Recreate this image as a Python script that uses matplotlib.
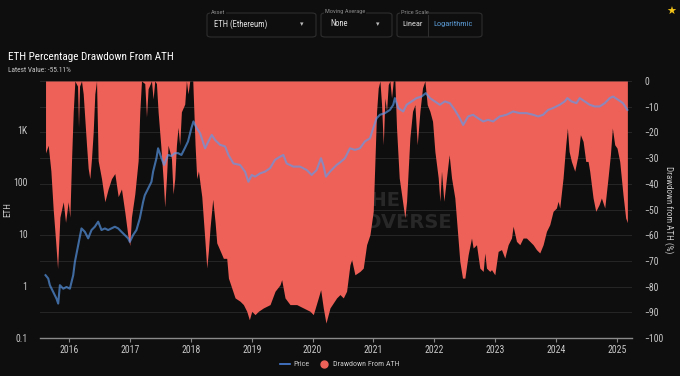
import matplotlib.pyplot as plt
import numpy as np
from matplotlib.patches import FancyBboxPatch
from matplotlib.lines import Line2D

plt.rcParams['font.family'] = ['Roboto Condensed', 'Archivo Narrow', 'DejaVu Sans']

# drawdown from ATH (%)
dd_year = [2015.611, 2015.655, 2015.699, 2015.737, 2015.776, 2015.809, 2015.847, 2015.902, 2015.94, 2015.983,
           2016.011, 2016.038, 2016.066, 2016.093, 2016.137, 2016.153, 2016.17, 2016.202, 2016.23, 2016.285,
           2016.312, 2016.339, 2016.367, 2016.394, 2016.421, 2016.449, 2016.476, 2016.531, 2016.586, 2016.64,
           2016.695, 2016.75, 2016.805, 2016.859, 2016.914, 2016.969, 2016.996, 2017.023, 2017.078, 2017.133,
           2017.16, 2017.188, 2017.242, 2017.27, 2017.297, 2017.352, 2017.379, 2017.406, 2017.434, 2017.461,
           2017.505, 2017.543, 2017.57, 2017.598, 2017.625, 2017.68, 2017.707, 2017.735, 2017.762, 2017.789,
           2017.816, 2017.844, 2017.899, 2017.926, 2017.953, 2017.981, 2018.031, 2018.069, 2018.096, 2018.124,
           2018.151, 2018.179, 2018.233, 2018.261, 2018.288, 2018.315, 2018.359, 2018.398, 2018.425, 2018.48,
           2018.534, 2018.589, 2018.617, 2018.671, 2018.726, 2018.808, 2018.863, 2018.918, 2018.961, 2019.0,
           2019.054, 2019.109, 2019.191, 2019.301, 2019.383, 2019.465, 2019.492, 2019.547, 2019.629, 2019.739,
           2019.848, 2019.958, 2020.012, 2020.094, 2020.133, 2020.176, 2020.22, 2020.286, 2020.395, 2020.45,
           2020.505, 2020.559, 2020.614, 2020.642, 2020.696, 2020.778, 2020.833, 2020.888, 2020.943, 2020.997,
           2021.052, 2021.079, 2021.107, 2021.134, 2021.162, 2021.189, 2021.216, 2021.244, 2021.271, 2021.298,
           2021.326, 2021.353, 2021.38, 2021.424, 2021.463, 2021.517, 2021.545, 2021.599, 2021.643, 2021.682,
           2021.72, 2021.764, 2021.807, 2021.846, 2021.884, 2021.928, 2021.972, 2022.01, 2022.065, 2022.092,
           2022.119, 2022.158, 2022.201, 2022.245, 2022.284, 2022.338, 2022.377, 2022.42, 2022.464, 2022.503,
           2022.557, 2022.612, 2022.639, 2022.694, 2022.749, 2022.804, 2022.831, 2022.858, 2022.913, 2022.941,
           2022.995, 2023.05, 2023.105, 2023.159, 2023.214, 2023.269, 2023.296, 2023.351, 2023.406, 2023.46,
           2023.515, 2023.57, 2023.625, 2023.679, 2023.734, 2023.789, 2023.844, 2023.898, 2023.953, 2024.008,
           2024.035, 2024.062, 2024.117, 2024.161, 2024.188, 2024.216, 2024.254, 2024.309, 2024.364, 2024.402,
           2024.446, 2024.49, 2024.528, 2024.555, 2024.61, 2024.654, 2024.709, 2024.747, 2024.802, 2024.856,
           2024.895, 2024.927, 2024.966, 2025.004, 2025.048, 2025.102, 2025.146, 2025.174]
dd_val = [-28, -25, -35, -50, -62, -73, -53, -47, -55, -47,
          -53, -31, -12, 0, -2, -18, -2, 0, -5, -25,
          -34, -38, -30, -20, -5, 0, -31, -38, -47, -42,
          -38, -36, -45, -42, -51, -61, -64, -53, -44, -31,
          -12, 0, -1, -14, -3, 0, -7, 0, -1, -12,
          -25, -38, -49, -38, -25, -30, -44, -38, -25, -18,
          -25, -12, -9, 0, -5, 0, 0, -25, -38, -35,
          -40, -45, -63, -72.8, -66, -57, -46, -55, -63, -66,
          -69, -69, -76.7, -80.5, -84.4, -85.7, -87, -89.6, -92.9, -89.6,
          -90.9, -89.6, -88.3, -87, -81.8, -79.3, -77.3, -84.4, -87, -87,
          -88.3, -89.6, -90.9, -84.4, -81.2, -88.3, -94.2, -88.3, -84.4, -83.1,
          -84.4, -81.8, -71.5, -69.5, -75.4, -74.1, -72.8, -63.7, -59.8, -50.7,
          -11.8, -2.7, 0, -9.2, -24.8, -6.6, -11.8, -1.4, 0, -6.6,
          0, 0, -18.3, -37.7, -44.2, -53.3, -46.8, -22.2, -11.8, -9.2,
          -24.8, -11.8, -2.7, 0, -9.2, -11.8, -15.7, -27.4, -37.7, -46.8,
          -35.1, -46.8, -37.7, -28.7, -37.7, -45.5, -57.2, -70.2, -76.7, -76.7,
          -67.6, -61.1, -65, -63.7, -72.8, -74.1, -66.9, -72.8, -74.1, -73.4,
          -75.4, -66.3, -65.6, -68.9, -63.7, -61.1, -56.5, -62.4, -63.7, -61.1,
          -61.1, -62.4, -63.7, -65.6, -66.9, -63.7, -58.5, -55.9, -50.7, -49.4,
          -46.8, -49.4, -37.7, -24.8, -18.3, -27.4, -31.3, -35.1, -28.7, -20.9,
          -23.5, -31.3, -31.3, -35.1, -45.5, -50.7, -48.1, -45.5, -49.4, -37.7,
          -28.7, -18.3, -24.8, -26.1, -31.3, -44.2, -53.3, -55.11]

# ETH price (USD, log axis)
px_year = [2015.611, 2015.655, 2015.682, 2015.737, 2015.792, 2015.819, 2015.847, 2015.902, 2015.956, 2016.011,
           2016.038, 2016.066, 2016.093, 2016.148, 2016.202, 2016.257, 2016.312, 2016.367, 2016.421, 2016.476,
           2016.531, 2016.586, 2016.64, 2016.695, 2016.75, 2016.805, 2016.859, 2016.914, 2016.969, 2016.996,
           2017.05, 2017.105, 2017.16, 2017.215, 2017.242, 2017.297, 2017.352, 2017.379, 2017.434, 2017.461,
           2017.516, 2017.559, 2017.625, 2017.68, 2017.735, 2017.789, 2017.844, 2017.899, 2017.953, 2018.008,
           2018.042, 2018.096, 2018.151, 2018.233, 2018.288, 2018.343, 2018.398, 2018.48, 2018.562, 2018.617,
           2018.699, 2018.808, 2018.89, 2018.945, 2019.0, 2019.054, 2019.136, 2019.219, 2019.301, 2019.383,
           2019.465, 2019.52, 2019.574, 2019.684, 2019.793, 2019.903, 2019.985, 2020.067, 2020.138, 2020.176,
           2020.22, 2020.286, 2020.395, 2020.45, 2020.532, 2020.614, 2020.696, 2020.778, 2020.86, 2020.943,
           2020.997, 2021.052, 2021.107, 2021.189, 2021.271, 2021.326, 2021.353, 2021.408, 2021.49, 2021.545,
           2021.627, 2021.709, 2021.791, 2021.862, 2021.928, 2022.01, 2022.092, 2022.174, 2022.256, 2022.338,
           2022.42, 2022.475, 2022.557, 2022.639, 2022.721, 2022.804, 2022.886, 2022.968, 2023.077, 2023.187,
           2023.296, 2023.406, 2023.515, 2023.625, 2023.707, 2023.789, 2023.871, 2023.953, 2024.062, 2024.145,
           2024.188, 2024.254, 2024.337, 2024.391, 2024.473, 2024.555, 2024.637, 2024.719, 2024.802, 2024.884,
           2024.939, 2025.021, 2025.102, 2025.174]
px_val = [1.62, 1.40, 1.04, 0.77, 0.57, 0.46, 1.04, 0.89, 0.96, 0.89,
          1.2, 1.62, 2.9, 6.1, 12.9, 11.1, 8.3, 12, 13.9, 17.4,
          12, 12.9, 12, 12.9, 13.9, 12.9, 11.1, 9.6, 8.3, 7.1,
          9.6, 12, 20, 42, 56, 76, 102, 160, 290, 450,
          290, 215, 335, 320, 363, 363, 335, 450, 610, 1100,
          1480, 1100, 880, 450, 610, 815, 650, 525, 490, 335,
          230, 215, 160, 102, 138, 128, 148, 160, 186, 270,
          310, 335, 230, 200, 200, 172, 138, 172, 290, 215,
          128, 160, 215, 240, 290, 450, 420, 450, 610, 700,
          1100, 1700, 1990, 2140, 2470, 3100, 4170, 2680, 2300, 3100,
          3600, 4170, 4470, 5200, 4170, 3600, 3100, 3600, 3330, 2470,
          1700, 1265, 1850, 1990, 1700, 1480, 1590, 1480, 1850, 1990,
          2300, 2140, 2140, 1990, 1850, 1990, 2470, 2680, 3100, 3600,
          4170, 3600, 3330, 4170, 3600, 3100, 2880, 2880, 3330, 4170,
          4470, 3870, 3330, 2470]

years = list(range(2016, 2026))
dd_ticks = list(range(0, -101, -10))
price_ticks = [0.1, 1, 10, 100, 1000]
price_labels = ['0.1', '1', '10', '100', '1K']

bg = '#0e0e0e'
red = '#ee6158'
blue = '#5a9cf0'
txt = '#c8c8c8'

fig = plt.figure(figsize=(6.8, 3.76), dpi=100, facecolor=bg)
ax = fig.add_axes([40/680, 1-338/376, 592/680, 257/376], facecolor=bg)
axp = ax.twinx()

# drawdown (right axis)
ax.fill_between(dd_year, 0, dd_val, color=red, lw=0, zorder=2)
ax.set_xlim(2015.52, 2025.25)
ax.set_ylim(-100, 0)
ax.set_yticks(dd_ticks)
ax.yaxis.tick_right()
ax.set_ylabel('Drawdown from ATH (%)', color=txt, fontsize=6.5, rotation=270)
ax.yaxis.set_label_coords(1 + 32/592, 0.5)
ax.grid(axis='y', color='#262626', lw=0.7, zorder=0)
ax.set_axisbelow(True)
ax.tick_params(axis='y', length=0, labelsize=7, labelcolor=txt, pad=9)
ax.set_xticks(years)
ax.set_xticklabels([str(y) for y in years])
ax.tick_params(axis='x', length=3, color='#888888', labelsize=7, labelcolor=txt, pad=2)
for s in ['top', 'left', 'right']:
    ax.spines[s].set_visible(False)
ax.spines['bottom'].set_color('#8a8a8a')
ax.spines['bottom'].set_linewidth(1)

# watermark, below the red fill
ax.text(400/680, 1-201/376, 'INTO THE', transform=fig.transFigure, ha='right', va='center',
        fontsize=14, fontweight='bold', color='#282828', zorder=1, family='DejaVu Sans')
ax.text(452/680, 1-223/376, 'CRYPTOVERSE', transform=fig.transFigure, ha='right', va='center',
        fontsize=14, fontweight='bold', color='#282828', zorder=1, family='DejaVu Sans')

# price (left axis)
axp.set_yscale('log')
axp.plot(px_year, px_val, color=blue, lw=1.5, alpha=0.65, zorder=3)
axp.set_ylim(0.1, 8900)
axp.yaxis.tick_left()
axp.set_yticks(price_ticks)
axp.set_yticklabels(price_labels)
axp.yaxis.set_minor_locator(plt.NullLocator())
axp.tick_params(axis='y', length=0, labelsize=7, labelcolor=txt, pad=9)
axp.set_ylabel('ETH', color=txt, fontsize=6.5)
axp.yaxis.set_label_position('left')
axp.yaxis.set_label_coords(-28/592, 0.5)
for s in axp.spines.values():
    s.set_visible(False)

# titles
fig.text(8/680, 1-57/376, 'ETH Percentage Drawdown From ATH', color='white', fontsize=8, va='center')
fig.text(8/680, 1-70/376, 'Latest Value: -55.11%', color=txt, fontsize=5.3, va='center')

# top controls
def box(x0, x1, label):
    fig.patches.append(FancyBboxPatch((x0/680, 1-37/376), (x1-x0)/680, 24/376,
                                      boxstyle='round,pad=0,rounding_size=0.006',
                                      transform=fig.transFigure, fc='none', ec='#2e2e2e', lw=0.8))
    fig.text((x0+4)/680, 1-12/376, label, color='#8a8a8a', fontsize=4.6, va='center',
             bbox=dict(fc=bg, ec='none', pad=0.5))

box(207, 316, 'Asset')
box(321, 392, 'Moving Average')
box(397, 482, 'Price Scale')
fig.text(214/680, 1-24/376, 'ETH (Ethereum)', color='#e0e0e0', fontsize=6.2, va='center')
fig.text(302/680, 1-24/376, '\u25BE', color='#bbbbbb', fontsize=5, va='center', ha='center',
         family='DejaVu Sans')
fig.text(330/680, 1-24/376, 'None', color='#e0e0e0', fontsize=6.2, va='center')
fig.text(378/680, 1-24/376, '\u25BE', color='#bbbbbb', fontsize=5, va='center', ha='center',
         family='DejaVu Sans')
fig.text(402/680, 1-24/376, 'Linear', color='#e0e0e0', fontsize=6, va='center')
fig.add_artist(Line2D([428/680, 428/680], [1-36/376, 1-14/376], color='#2e2e2e', lw=0.8))
fig.text(433/680, 1-24/376, 'Logarithmic', color='#5b9bd5', fontsize=6, va='center')
fig.text(671/680, 1-12/376, '\u2605', color='#f5c518', fontsize=8, va='center', ha='center',
         family='DejaVu Sans')

# legend
handles = [Line2D([], [], color='#4a7fd8', lw=1.2),
           Line2D([], [], marker='o', ls='none', color=red, markersize=5)]
fig.legend(handles, ['Price', 'Drawdown From ATH'], loc='center', bbox_to_anchor=(340/680, 1-364/376),
           ncol=2, frameon=False, fontsize=5.8, labelcolor=txt, handlelength=1.2,
           columnspacing=1.2, handletextpad=0.5)

fig.savefig('out.png', dpi=100, facecolor=bg)
